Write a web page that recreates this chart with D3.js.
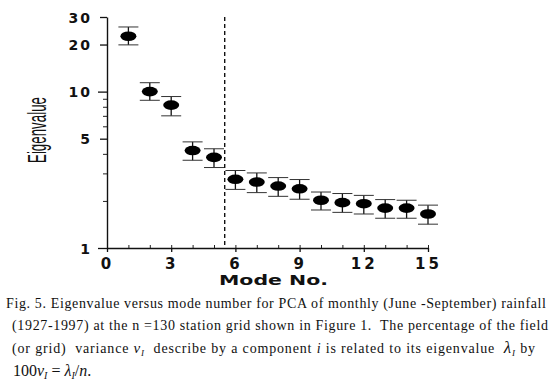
<!DOCTYPE html>
<html>
<head>
<meta charset="utf-8">
<script src="https://cdn.jsdelivr.net/npm/d3@7"></script>
<style>
  html, body { margin: 0; padding: 0; background: #fff; }
  svg { display: block; }
  .tick text { font-family: "DejaVu Sans", sans-serif; font-weight: bold; fill: #111; }
  .caption { font-family: "Liberation Serif", "DejaVu Serif", serif; font-size: 14px; fill: #111; }
</style>
</head>
<body>
<svg id="chart" width="557" height="384"></svg>
<script>
  // ---- data ----
  const modes = [1, 2, 3, 4, 5, 6, 7, 8, 9, 10, 11, 12, 13, 14, 15];
  const eigen = [22.6, 10.0, 8.2, 4.2, 3.8, 2.75, 2.64, 2.49, 2.39, 2.02, 1.95, 1.92, 1.80, 1.80, 1.65];
  const upper = [25.9, 11.4, 9.3, 4.77, 4.31, 3.13, 3.02, 2.82, 2.74, 2.28, 2.23, 2.17, 2.04, 2.02, 1.88];
  const lower = [19.9, 8.8, 7.0, 3.64, 3.27, 2.37, 2.26, 2.14, 2.05, 1.75, 1.69, 1.65, 1.55, 1.55, 1.42];
  const cutoff = 5.5;

  const xTicks = [0, 3, 6, 9, 12, 15];
  const xMinorTicks = d3.range(0, 16);
  const yTicks = [1, 5, 10, 20, 30];
  const yMinorTicks = [2, 3, 4, 6, 7, 8, 9];

  const svg = d3.select("#chart");

  const x = d3.scaleLinear().domain([0, 15]).range([107, 428]);
  const y = d3.scaleLog().domain([1, 30]).range([248, 17]);

  // Axes
  svg.append("g")
    .attr("transform", `translate(0,${y(1)})`)
    .call(d3.axisBottom(x).tickValues(xMinorTicks).tickSize(-3).tickSizeOuter(0).tickFormat(""))
    .call(g => g.select(".domain").remove())
    .call(g => g.selectAll("line").attr("stroke", "#222").attr("stroke-width", 1));

  const xAxis = svg.append("g")
    .attr("transform", `translate(0,${y(1)})`)
    .call(d3.axisBottom(x).tickValues(xTicks).tickSize(4).tickSizeOuter(0).tickPadding(6));
  xAxis.select(".domain").attr("stroke", "#111").attr("stroke-width", 1.4);
  xAxis.selectAll("line").attr("stroke", "#111").attr("stroke-width", 1.3);
  xAxis.selectAll("text").attr("font-size", 15).attr("letter-spacing", 3).attr("dy", "0.72em");

  svg.append("g")
    .attr("transform", `translate(${x(0)},0)`)
    .call(d3.axisLeft(y).tickValues(yMinorTicks).tickSize(4).tickSizeOuter(0).tickFormat(""))
    .call(g => g.select(".domain").remove())
    .call(g => g.selectAll("line").attr("stroke", "#222").attr("stroke-width", 1));

  const yAxis = svg.append("g")
    .attr("transform", `translate(${x(0)},0)`)
    .call(d3.axisLeft(y).tickValues(yTicks).tickFormat(d3.format("d")).tickSize(7).tickSizeOuter(0).tickPadding(8));
  yAxis.select(".domain").attr("stroke", "#111").attr("stroke-width", 1.4);
  yAxis.selectAll("line").attr("stroke", "#111").attr("stroke-width", 1.3)
    .attr("x2", d => (d === 1 || d === 10) ? -9 : -7);
  yAxis.selectAll("text").attr("font-size", 14).attr("letter-spacing", 2).attr("dy", "0.36em");

  // Cut-off line
  svg.append("line")
    .attr("x1", x(cutoff)).attr("x2", x(cutoff))
    .attr("y1", y(30)).attr("y2", y(1))
    .attr("stroke", "#111").attr("stroke-width", 1.4)
    .attr("stroke-dasharray", "4,3");

  // Error bars and markers
  const pts = modes.map((m, i) => ({ m, v: eigen[i], hi: upper[i], lo: lower[i] }));
  const bars = svg.append("g").attr("class", "errbars");
  pts.forEach(d => {
    bars.append("line")
      .attr("x1", x(d.m)).attr("x2", x(d.m))
      .attr("y1", y(d.hi)).attr("y2", y(d.lo))
      .attr("stroke", "#111").attr("stroke-width", 1.3);
    [d.hi, d.lo].forEach(v => {
      bars.append("line")
        .attr("x1", x(d.m) - 10).attr("x2", x(d.m) + 10)
        .attr("y1", y(v)).attr("y2", y(v))
        .attr("stroke", "#333").attr("stroke-width", 1);
    });
  });

  svg.append("g").selectAll("ellipse")
    .data(pts)
    .join("ellipse")
    .attr("cx", d => x(d.m)).attr("cy", d => y(d.v))
    .attr("rx", 8).attr("ry", 4.8)
    .attr("fill", "#000");

  // Axis titles
  svg.append("text")
    .attr("transform", "translate(46,130) rotate(-90)")
    .attr("text-anchor", "middle")
    .attr("font-family", "'Liberation Sans', Arial, sans-serif")
    .attr("font-size", 25)
    .attr("textLength", 66).attr("lengthAdjust", "spacingAndGlyphs")
    .attr("fill", "#111")
    .text("Eigenvalue");

  svg.append("text")
    .attr("x", 219).attr("y", 285)
    .attr("font-family", "'DejaVu Sans', sans-serif")
    .attr("font-weight", "bold")
    .attr("font-size", 14)
    .attr("textLength", 109).attr("lengthAdjust", "spacingAndGlyphs")
    .attr("fill", "#111")
    .text("Mode No.");

  // Caption
  const cap = svg.append("g").attr("class", "caption");
  cap.append("text").attr("x", 6).attr("y", 308).attr("textLength", 540)
    .text("Fig. 5. Eigenvalue versus mode number for PCA of monthly (June -September) rainfall");
  cap.append("text").attr("x", 12).attr("y", 330).attr("textLength", 536)
    .attr("xml:space", "preserve")
    .text("(1927-1997) at the n =130 station grid shown in Figure 1.  The percentage of the field");

  const l3 = cap.append("text").attr("x", 12).attr("y", 353).attr("textLength", 523)
    .attr("xml:space", "preserve");
  l3.append("tspan").text("(or grid)  variance ");
  l3.append("tspan").attr("font-style", "italic").attr("font-size", 15).text("v");
  l3.append("tspan").attr("font-style", "italic").attr("font-size", 9).attr("dy", 3).text("I");
  l3.append("tspan").attr("dy", -3).text("  describe by a component ");
  l3.append("tspan").attr("font-style", "italic").text("i");
  l3.append("tspan").text(" is related to its eigenvalue  ");
  l3.append("tspan").attr("font-style", "italic").attr("font-size", 17).text("λ");
  l3.append("tspan").attr("font-style", "italic").attr("font-size", 9).attr("dy", 3).text("I");
  l3.append("tspan").attr("dy", -3).text(" by");

  const l4 = cap.append("text").attr("x", 13).attr("y", 376).attr("font-size", 16)
    .attr("xml:space", "preserve");
  l4.append("tspan").text("100");
  l4.append("tspan").attr("font-style", "italic").text("v");
  l4.append("tspan").attr("font-style", "italic").attr("font-size", 10).attr("dy", 3).text("I");
  l4.append("tspan").attr("dy", -3).text(" = ");
  l4.append("tspan").attr("font-style", "italic").text("λ");
  l4.append("tspan").attr("font-style", "italic").attr("font-size", 10).attr("dy", 3).text("I");
  l4.append("tspan").attr("dy", -3).text("/");
  l4.append("tspan").attr("font-style", "italic").text("n");
  l4.append("tspan").text(".");
</script>
</body>
</html>
